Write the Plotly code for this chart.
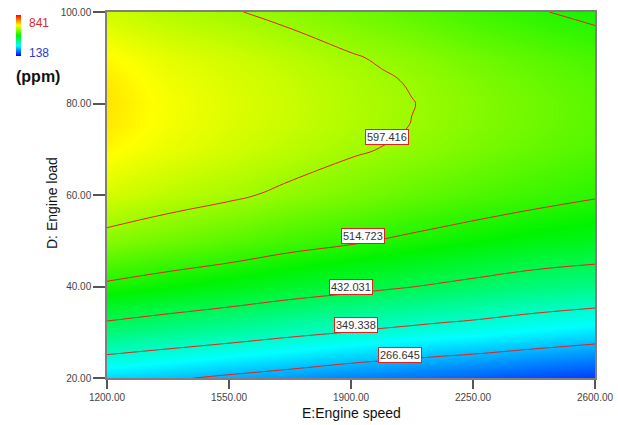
import plotly.graph_objects as go

# Engine speed (x) and engine load (y) grid, predicted NOx (ppm)
speed = [1200, 1375, 1550, 1725, 1900, 1987.5, 2075, 2162.5, 2250, 2425, 2600]
load = [20, 30, 40, 50, 60, 70, 75, 80, 85, 90, 100]

nox_load20 = [288, 273, 258, 244, 228, 222, 216, 210, 204, 191, 179]
nox_load30 = [408, 393, 378, 362, 348, 341, 335, 329, 324, 310, 297]
nox_load40 = [506, 490, 476, 460, 447, 440, 433, 426, 419, 405, 396]
nox_load50 = [582, 566, 551, 534, 521, 513, 506, 499, 492, 479, 470]
nox_load60 = [636, 619, 605, 588, 573, 566, 558, 551, 544, 531, 519]
nox_load70 = [670, 651, 635, 619, 603, 596.5, 589, 581.5, 574, 559, 545]
nox_load75 = [680, 658, 641, 627, 611, 604, 596.5, 588.4, 580.4, 565.7, 551]
nox_load80 = [683, 660, 643, 629, 612, 605.6, 598.4, 590, 582, 567, 552]
nox_load85 = [680, 655, 640, 626, 610, 602, 594.5, 586.5, 577.6, 562.5, 547]
nox_load90 = [669, 647, 634, 618, 601, 593.2, 586, 577, 568, 553, 538]
nox_load100 = [632, 614, 601, 586, 569, 561, 553, 543.5, 534, 518, 505]

z = [nox_load20, nox_load30, nox_load40, nox_load50, nox_load60, nox_load70,
     nox_load75, nox_load80, nox_load85, nox_load90, nox_load100]

contour_levels = [266.645, 349.338, 432.031, 514.723, 597.416]
color_min, color_max = 138, 841

x_ticks = [1200, 1550, 1900, 2250, 2600]
y_ticks = [20, 40, 60, 80, 100]

FONT = "Arial, Liberation Sans, sans-serif"
RED = "rgb(228,32,32)"

colorscale = [[0.0, "#0000FF"], [0.25, "#00FFFF"], [0.5, "#00F400"],
              [0.75, "#FFFF00"], [1.0, "#FF0000"]]

step = (contour_levels[-1] - contour_levels[0]) / (len(contour_levels) - 1)

fig = go.Figure()
fig.add_trace(go.Contour(
    x=speed, y=load, z=z,
    colorscale=colorscale, zmin=color_min, zmax=color_max, zauto=False,
    contours=dict(start=contour_levels[0], end=contour_levels[-1] + 0.01,
                  size=step, coloring="heatmap", showlabels=False),
    line=dict(color=RED, width=1, smoothing=1.3),
    showscale=False,
    hoverinfo="skip",
))

# colour legend bar (top-left)
fig.add_trace(go.Scatter(
    x=[None], y=[None], mode="markers", hoverinfo="skip",
    marker=dict(color=[color_min, color_max], cmin=color_min, cmax=color_max,
                colorscale=colorscale, showscale=True,
                colorbar=dict(xref="container", yref="container", x=0.0254, xanchor="left",
                              y=0.959, yanchor="top", len=41, lenmode="pixels",
                              thickness=5, thicknessmode="pixels", outlinewidth=0,
                              xpad=0, ypad=0, showticklabels=False, ticks="")),
))

# contour value labels (boxed, as in the original)
label_pos = {597.416: (2004, 72.7), 514.723: (1935, 51.1), 432.031: (1899, 40.0),
             349.338: (1914, 31.6), 266.645: (2040, 25.1)}
annotations = []
for lev in contour_levels:
    sx, ly = label_pos[lev]
    annotations.append(dict(x=sx, y=ly, xref="x", yref="y", text=f"{lev:.3f}",
                            showarrow=False, font=dict(family=FONT, size=11, color="#333333"),
                            bgcolor="white", bordercolor=RED, borderwidth=1, borderpad=1))

def px_x(p):
    return (p - 107) / 488.0

def px_y(p):
    return (378 - p) / 366.0

annotations += [
    dict(x=px_x(27), y=px_y(23), xref="paper", yref="paper", text=str(color_max),
         showarrow=False, xanchor="left", yanchor="middle",
         font=dict(family=FONT, size=12, color="#D42A2A")),
    dict(x=px_x(27), y=px_y(53), xref="paper", yref="paper", text=str(color_min),
         showarrow=False, xanchor="left", yanchor="middle",
         font=dict(family=FONT, size=12, color="#2A3AC8")),
    dict(x=px_x(14), y=px_y(76), xref="paper", yref="paper", text="<b>(ppm)</b>",
         showarrow=False, xanchor="left", yanchor="middle",
         font=dict(family=FONT, size=16, color="#111111")),
    dict(x=0.5, y=px_y(413), xref="paper", yref="paper", text="E:Engine speed",
         showarrow=False, xanchor="center", yanchor="middle",
         font=dict(family=FONT, size=14, color="#111111")),
    dict(x=px_x(52), y=px_y(203), xref="paper", yref="paper", text="D: Engine load",
         showarrow=False, xanchor="center", yanchor="middle", textangle=-90,
         font=dict(family=FONT, size=14, color="#111111")),
]

axis_common = dict(showgrid=False, zeroline=False, showline=True, mirror=True,
                   linecolor="#7f7f7f", linewidth=1.5, ticks="outside",
                   tickcolor="#555555", tickwidth=1.5, tickformat=".2f",
                   tickfont=dict(family=FONT, size=10, color="#444444"))

fig.update_layout(
    width=618, height=425,
    margin=dict(l=107, r=23, t=12, b=47, autoexpand=False),
    paper_bgcolor="white", plot_bgcolor="white",
    xaxis=dict(range=[speed[0], speed[-1]], tickvals=x_ticks, ticklen=9, **axis_common),
    yaxis=dict(range=[load[0], load[-1]], tickvals=y_ticks, ticklen=12, **axis_common),
    annotations=annotations,
    showlegend=False,
    font=dict(family=FONT),
)

fig.write_html("out.html", config={"displayModeBar": False},
               post_script="document.body.style.margin='0px';")
